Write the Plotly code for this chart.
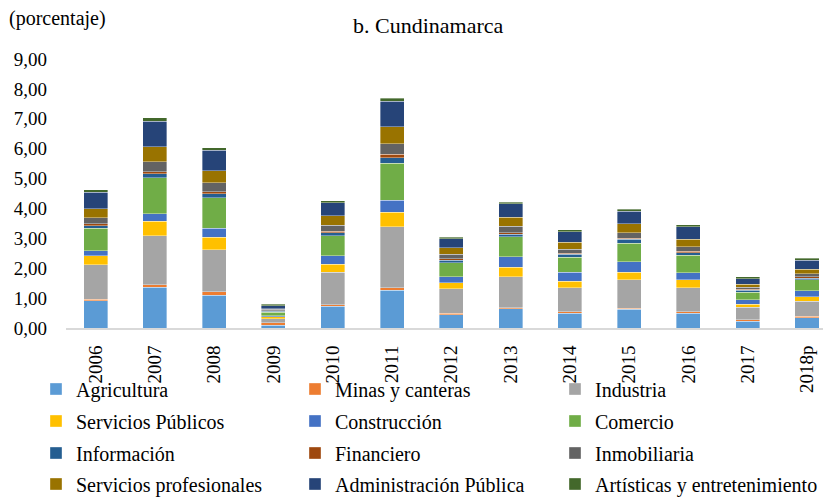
import plotly.graph_objects as go

years = ["2006", "2007", "2008", "2009", "2010", "2011", "2012", "2013", "2014", "2015", "2016", "2017", "2018p"]

agricultura   = [0.91, 1.36, 1.10, 0.10, 0.72, 1.26, 0.45, 0.65, 0.50, 0.62, 0.49, 0.23, 0.35]
minas         = [0.06, 0.08, 0.11, 0.07, 0.06, 0.09, 0.04, 0.02, 0.05, 0.04, 0.06, 0.05, 0.04]
industria     = [1.14, 1.65, 1.41, 0.14, 1.08, 2.03, 0.83, 1.05, 0.79, 0.95, 0.80, 0.42, 0.50]
serv_publicos = [0.31, 0.49, 0.42, 0.06, 0.27, 0.50, 0.19, 0.31, 0.23, 0.25, 0.26, 0.10, 0.16]
construccion  = [0.16, 0.24, 0.29, 0.04, 0.29, 0.40, 0.21, 0.35, 0.30, 0.36, 0.24, 0.15, 0.20]
comercio      = [0.75, 1.20, 1.03, 0.12, 0.67, 1.23, 0.46, 0.67, 0.50, 0.61, 0.58, 0.25, 0.37]
informacion   = [0.09, 0.14, 0.14, 0.03, 0.09, 0.19, 0.09, 0.08, 0.10, 0.14, 0.08, 0.06, 0.05]
financiero    = [0.07, 0.06, 0.06, 0.02, 0.05, 0.11, 0.05, 0.06, 0.03, 0.04, 0.05, 0.03, 0.05]
inmobiliaria  = [0.20, 0.34, 0.30, 0.04, 0.20, 0.36, 0.15, 0.22, 0.13, 0.18, 0.16, 0.07, 0.10]
serv_prof     = [0.30, 0.50, 0.40, 0.03, 0.32, 0.56, 0.22, 0.30, 0.24, 0.30, 0.25, 0.10, 0.15]
admin_publica = [0.56, 0.86, 0.69, 0.10, 0.44, 0.85, 0.30, 0.44, 0.35, 0.42, 0.41, 0.19, 0.29]
artisticas    = [0.07, 0.11, 0.08, 0.05, 0.07, 0.11, 0.04, 0.06, 0.06, 0.07, 0.07, 0.06, 0.07]

series_names = ["Agricultura", "Minas y canteras", "Industria", "Servicios Públicos",
                "Construcción", "Comercio", "Información", "Financiero", "Inmobiliaria",
                "Servicios profesionales", "Administración Pública", "Artísticas y entretenimiento"]
series_values = [agricultura, minas, industria, serv_publicos, construccion, comercio,
                 informacion, financiero, inmobiliaria, serv_prof, admin_publica, artisticas]
colors = ["#5B9BD5", "#ED7D31", "#A5A5A5", "#FFC000", "#4472C4", "#70AD47",
          "#255E91", "#9E480E", "#636363", "#997300", "#264478", "#43682B"]

FONT = "Liberation Serif, Times New Roman, serif"
W, H = 823, 497
ML, MR, MT, MB = 66, 0, 59, 169
plot_w = W - ML - MR
plot_h = H - MT - MB

# legend layout (3 columns x 4 rows), text-left pixel positions and row centres
legend_text_x = [77, 336, 596]
legend_row_y = [389, 421, 453, 484]
TEXT_OFFSET = 41  # distance from legend box left to legend text start in plotly

fig = go.Figure()
layout_legends = {}
for i, (name, vals, col) in enumerate(zip(series_names, series_values, colors)):
    key = "legend" if i == 0 else f"legend{i + 1}"
    row, colidx = divmod(i, 3)
    fig.add_trace(go.Bar(
        x=years, y=vals, name=name, legend=key,
        marker=dict(color=col, line=dict(color="rgba(255,255,255,0.45)", width=0.8)),
    ))
    layout_legends[key] = dict(
        xref="container", yref="container",
        x=(legend_text_x[colidx] - TEXT_OFFSET) / W, xanchor="left",
        y=1 - legend_row_y[row] / H, yanchor="middle",
        orientation="h",
        bgcolor="rgba(0,0,0,0)",
        font=dict(family=FONT, size=20, color="#000000"),
    )

fig.update_layout(
    width=W, height=H,
    barmode="stack",
    bargap=0.595,
    separators=",.",
    plot_bgcolor="white", paper_bgcolor="white",
    margin=dict(l=ML, r=MR, t=MT, b=MB, autoexpand=False),
    font=dict(family=FONT, size=19, color="#000000"),
    showlegend=True,
    annotations=[
        dict(text="b. Cundinamarca", xref="paper", yref="paper",
             x=(428 - ML) / plot_w, y=(H - MB - 25) / plot_h,
             xanchor="center", yanchor="middle", showarrow=False,
             font=dict(family=FONT, size=22)),
        dict(text="(porcentaje)", xref="paper", yref="paper",
             x=(7 - ML) / plot_w, y=(H - MB - 18) / plot_h,
             xanchor="left", yanchor="middle", showarrow=False,
             font=dict(family=FONT, size=20)),
    ],
    **layout_legends,
)

fig.update_xaxes(
    type="category",
    range=[-0.5, 12.27],
    tickangle=-90,
    showline=True, linecolor="#D9D9D9", linewidth=2,
    ticks="", showgrid=False,
    ticklabelstandoff=8,
    tickfont=dict(family=FONT, size=19),
)
fig.update_yaxes(
    range=[0, 9],
    tickvals=list(range(0, 10)),
    tickformat=".2f",
    showgrid=False, zeroline=False, showline=False,
    ticks="",
    ticklabelstandoff=18,
    tickfont=dict(family=FONT, size=19),
)

fig.write_html("out.html", config={"displayModeBar": False},
               post_script="document.body.style.margin='0';")
